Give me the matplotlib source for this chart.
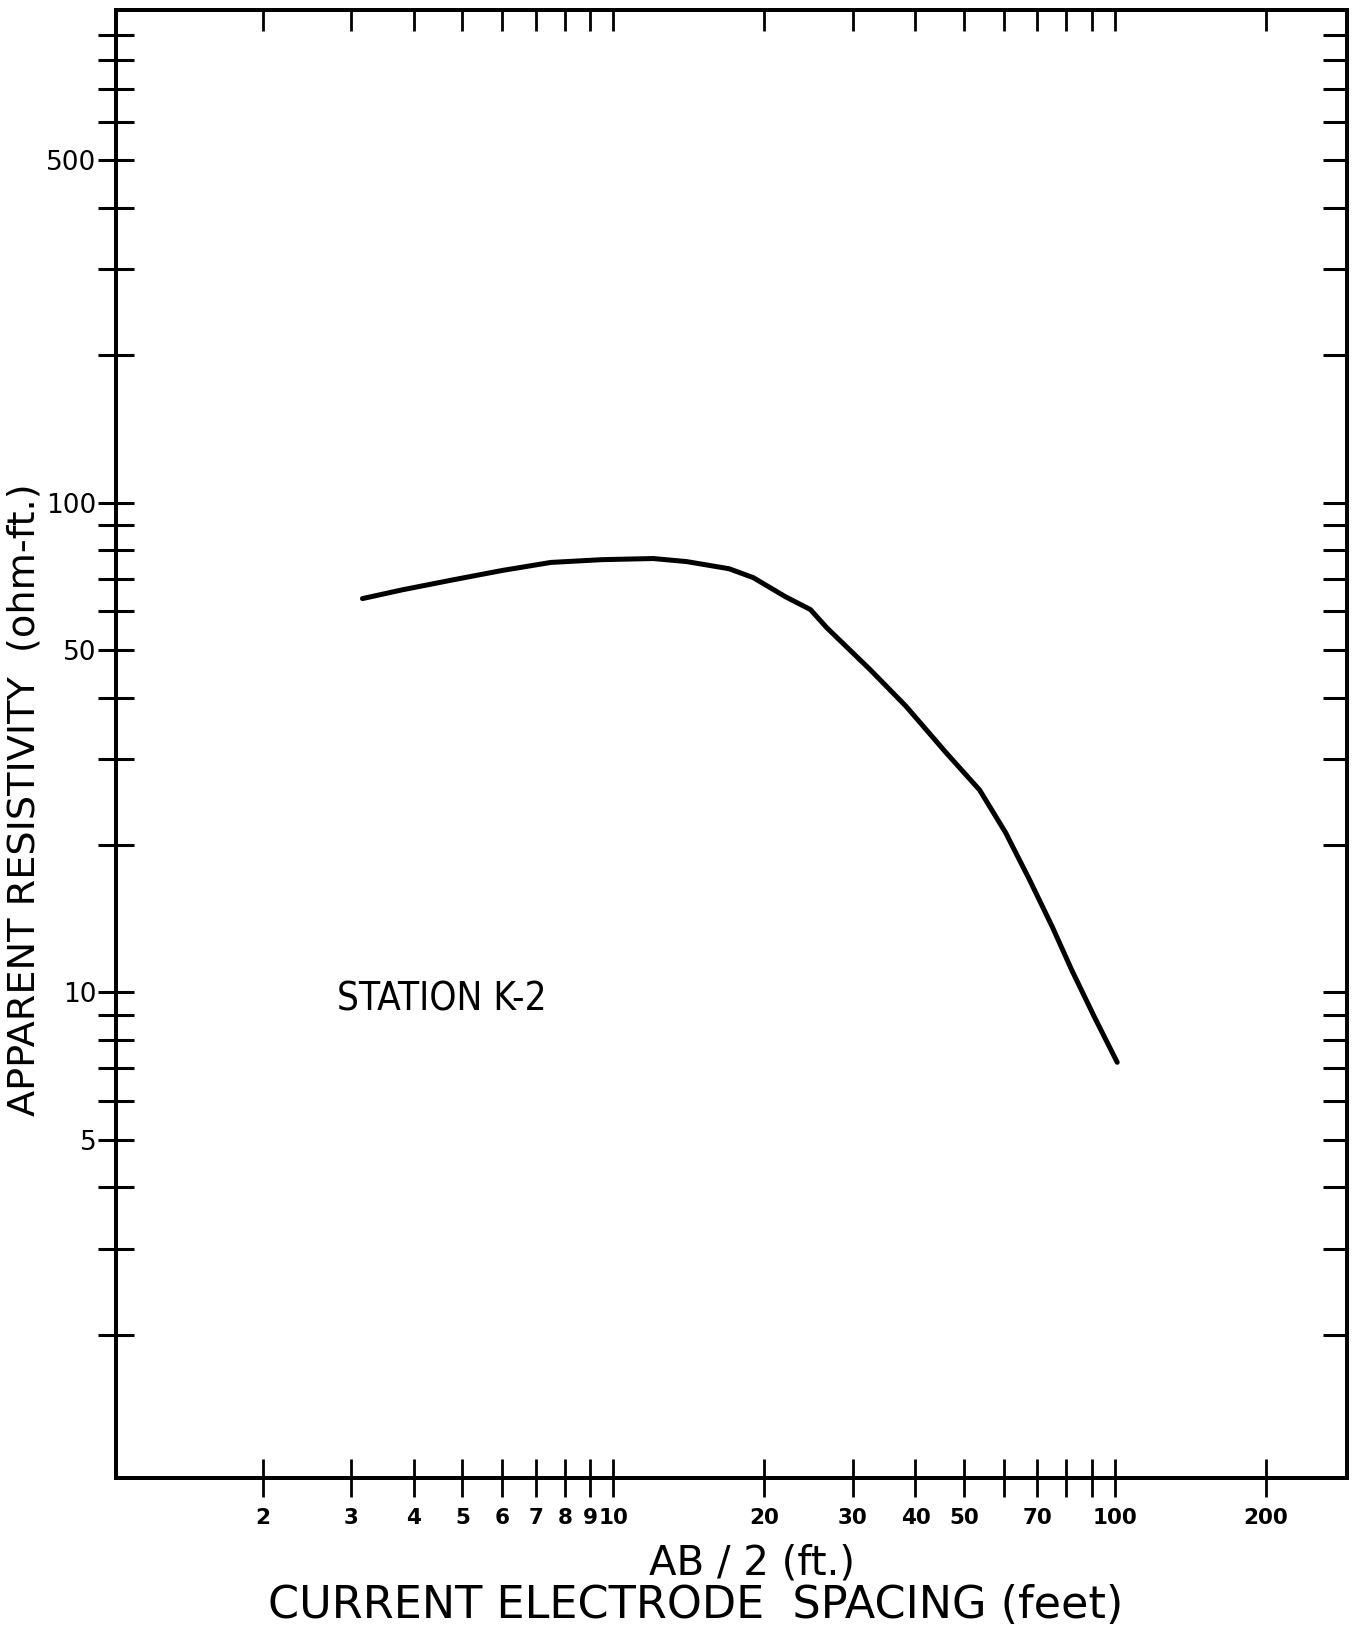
import matplotlib
matplotlib.use('Agg')
import matplotlib.pyplot as plt
from matplotlib import font_manager
from matplotlib.font_manager import FontProperties
from matplotlib.ticker import FixedLocator, FixedFormatter, NullLocator

# ---- data ----
ab2_ft = [3.16, 3.8, 4.8, 6.0, 7.5, 9.5, 12.0, 14.0, 17.0, 19.0, 22.0, 24.7,
          26.6, 32.5, 38.3, 46.0, 53.7, 60.5, 67.5, 75.0, 82.0, 91.0, 101.0]
rho_a = [63.7, 66.4, 69.6, 72.7, 75.5, 76.5, 76.9, 75.8, 73.3, 70.3, 64.3, 60.5,
         55.6, 45.6, 38.4, 30.9, 25.9, 21.2, 17.0, 13.6, 11.1, 8.9, 7.2]

x_ticks = [2, 3, 4, 5, 6, 7, 8, 9, 10, 20, 30, 40, 50, 60, 70, 80, 90, 100, 200]
x_tick_labels = ['2', '3', '4', '5', '6', '7', '8', '9', '10', '20', '30', '40',
                 '50', '', '70', '', '', '100', '200']
y_ticks = [2, 3, 4, 5, 6, 7, 8, 9, 10, 20, 30, 40, 50, 60, 70, 80, 90, 100,
           200, 300, 400, 500, 600, 700, 800, 900]
y_tick_labels = ['', '', '', '5', '', '', '', '', '10', '', '', '', '50', '', '',
                 '', '', '100', '', '', '', '500', '', '', '', '']

station_label = 'STATION K-2'
y_label = 'APPARENT RESISTIVITY  (ohm-ft.)'
x_label1 = 'AB / 2 (ft.)'
x_label2 = 'CURRENT ELECTRODE  SPACING (feet)'

plt.rcParams['font.family'] = ['DejaVu Sans']

# condensed face for the station label, if one is installed
names = {f.name for f in font_manager.fontManager.ttflist}
if 'Liberation Sans Narrow' in names:
    station_fp = FontProperties(family='Liberation Sans Narrow')
else:
    station_fp = FontProperties(family='DejaVu Sans', stretch='condensed')

fig = plt.figure(figsize=(13.66, 16.29), dpi=100)
ax = fig.add_axes([0.0850, 0.0927, 0.9011, 0.9012])
ax.set_xscale('log')
ax.set_yscale('log')
xlim = (1.02, 290)
ylim = (1.02, 1014)
ax.set_xlim(*xlim)
ax.set_ylim(*ylim)

ax.plot(ab2_ft, rho_a, color='black', lw=3.6, solid_capstyle='round',
        solid_joinstyle='round')

ax.xaxis.set_major_locator(FixedLocator(x_ticks))
ax.xaxis.set_major_formatter(FixedFormatter(x_tick_labels))
ax.xaxis.set_minor_locator(NullLocator())
ax.yaxis.set_major_locator(FixedLocator(y_ticks))
ax.yaxis.set_major_formatter(FixedFormatter(y_tick_labels))
ax.yaxis.set_minor_locator(NullLocator())

ax.tick_params(axis='x', which='major', direction='inout', length=27, width=2.0,
               pad=8, labelsize=15.5)
ax.tick_params(axis='y', which='major', direction='inout', length=26, width=2.2,
               pad=1, labelsize=19)
for lab in ax.get_xticklabels():
    lab.set_fontweight('bold')

# right axis: inward ticks only
axr = ax.twinx()
axr.set_yscale('log')
axr.set_ylim(*ylim)
axr.yaxis.set_major_locator(FixedLocator(y_ticks))
axr.yaxis.set_minor_locator(NullLocator())
axr.tick_params(axis='y', which='major', direction='in', length=17, width=2.2,
                labelright=False)

# top axis: inward ticks only
axt = ax.twiny()
axt.set_xscale('log')
axt.set_xlim(*xlim)
axt.xaxis.set_major_locator(FixedLocator(x_ticks))
axt.xaxis.set_minor_locator(NullLocator())
axt.tick_params(axis='x', which='major', direction='in', length=15, width=2.0,
                labeltop=False)

for a in (ax, axr, axt):
    for s in a.spines.values():
        s.set_linewidth(2.6)
        s.set_color('black')

st = fig.text(0.3236, 0.3867, station_label, ha='center', va='center',
              fontproperties=station_fp, fontsize=28)
# fit the station label to the width it has in the reference (~210 px)
fig.canvas.draw()
w = st.get_window_extent().width
st.set_fontsize(28 * 210.0 / w)

fig.text(0.0180, 0.509, y_label, rotation=90, ha='center', va='center',
         fontsize=27.5)
fig.text(0.5505, 0.0405, x_label1, ha='center', va='center', fontsize=29)
fig.text(0.5095, 0.0145, x_label2, ha='center', va='center', fontsize=32)

fig.savefig('out.png', dpi=100, facecolor='white')
